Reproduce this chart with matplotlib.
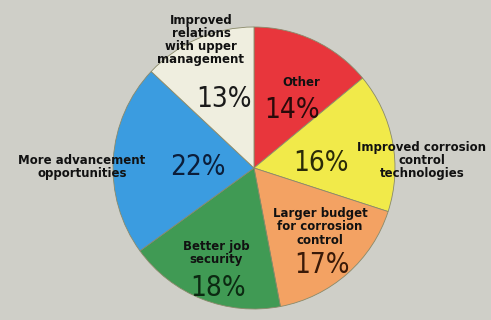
"""
plot.py — Pie chart of what would improve job satisfaction.
"""

import matplotlib
matplotlib.use("Agg")
import matplotlib.pyplot as plt

# Slices, clockwise from 12 o'clock
labels = [
    "Other",
    "Improved corrosion\ncontrol\ntechnologies",
    "Larger budget\nfor corrosion\ncontrol",
    "Better job\nsecurity",
    "More advancement\nopportunities",
    "Improved\nrelations\nwith upper\nmanagement",
]
shares = [14, 16, 17, 18, 22, 13]
colors = ["#e8363c", "#f1ea4a", "#f3a263", "#409a54", "#3b9ce0", "#efeedf"]
pct_colors = ["#2a0a0a", "#2a2a08", "#3a1a08", "#0c2a12", "#0c1e3a", "#1a1a1a"]

W, H = 491, 320

fig = plt.figure(figsize=(W / 100, H / 100), dpi=100)
fig.patch.set_facecolor("#cfcfc8")
ax = fig.add_axes([0, 0, 1, 1])

ax.pie(
    shares,
    colors=colors,
    startangle=90,
    counterclock=False,
    center=(254, H - 168),
    radius=141,
    wedgeprops=dict(edgecolor="#8a8a6a", linewidth=0.6),
    frame=True,
)
ax.set_xlim(0, W)
ax.set_ylim(0, H)
ax.set_aspect("equal")
ax.axis("off")

# label and percentage positions (pixels from top-left)
label_pos = [(301, 83), (422, 160), (320, 227), (216, 253), (82, 167), (201, 40)]
pct_pos = [(292, 110), (321, 163), (322, 265), (218, 288), (198, 167), (224, 99)]

for lab, (x, y) in zip(labels, label_pos):
    ax.text(x, H - y, lab, ha="center", va="center", fontsize=8.5,
            fontweight="bold", color="#111111", linespacing=1.0)

for s, (x, y), color in zip(shares, pct_pos, pct_colors):
    ax.text(x, H - y, f"{s}%", ha="center", va="center", fontsize=20,
            family="DejaVu Sans", fontstretch="condensed", color=color)

fig.savefig("out.png", dpi=100, facecolor=fig.get_facecolor())
